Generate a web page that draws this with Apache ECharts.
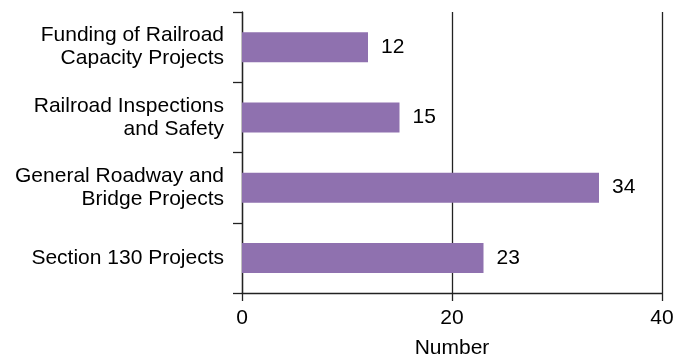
<!DOCTYPE html>
<html>
<head>
<meta charset="utf-8">
<script src="https://cdn.jsdelivr.net/npm/echarts@6/dist/echarts.min.js"></script>
<style>
  html, body { margin: 0; padding: 0; background: #fff; }
  #chart { width: 674px; height: 362px; }
</style>
</head>
<body>
<div id="chart"></div>
<script>
const categories = [
  "Funding of Railroad\nCapacity Projects",
  "Railroad Inspections\nand Safety",
  "General Roadway and\nBridge Projects",
  "Section 130 Projects",
];
const values = [12, 15, 34, 23];
const xTicks = [0, 20, 40];

const chart = echarts.init(document.getElementById("chart"));
const font = "Liberation Sans, Arial, Helvetica, sans-serif";
const lineCol = "#222";

chart.setOption({
  animation: false,
  grid: { left: 242, right: 12, top: 12, bottom: 69, outerBoundsMode: "none" },
  xAxis: {
    type: "value",
    min: xTicks[0],
    max: xTicks[xTicks.length - 1],
    interval: xTicks[1] - xTicks[0],
    name: "Number",
    nameLocation: "middle",
    nameGap: 45,
    nameTextStyle: { color: "#000", fontSize: 21, fontFamily: font },
    axisLine: { show: true, lineStyle: { color: lineCol, width: 1.3 } },
    axisTick: { show: true, length: 8, lineStyle: { color: lineCol, width: 1.3 } },
    axisLabel: { color: "#000", fontSize: 21, fontFamily: font, margin: 15 },
    splitLine: { show: true, lineStyle: { color: lineCol, width: 1.3 } },
  },
  yAxis: {
    type: "category",
    inverse: true,
    data: categories,
    axisLine: { show: true, lineStyle: { color: lineCol, width: 1.3 } },
    axisTick: { show: true, length: 9, lineStyle: { color: lineCol, width: 1.3 } },
    axisLabel: {
      color: "#000",
      fontSize: 21,
      fontFamily: font,
      lineHeight: 23,
      margin: 18,
      align: "right",
    },
  },
  series: [
    {
      type: "bar",
      data: values,
      barWidth: 30,
      itemStyle: { color: "#8F71AF" },
      label: {
        show: true,
        position: "right",
        distance: 13,
        color: "#000",
        fontSize: 21,
        fontFamily: font,
      },
    },
  ],
});
</script>
</body>
</html>
